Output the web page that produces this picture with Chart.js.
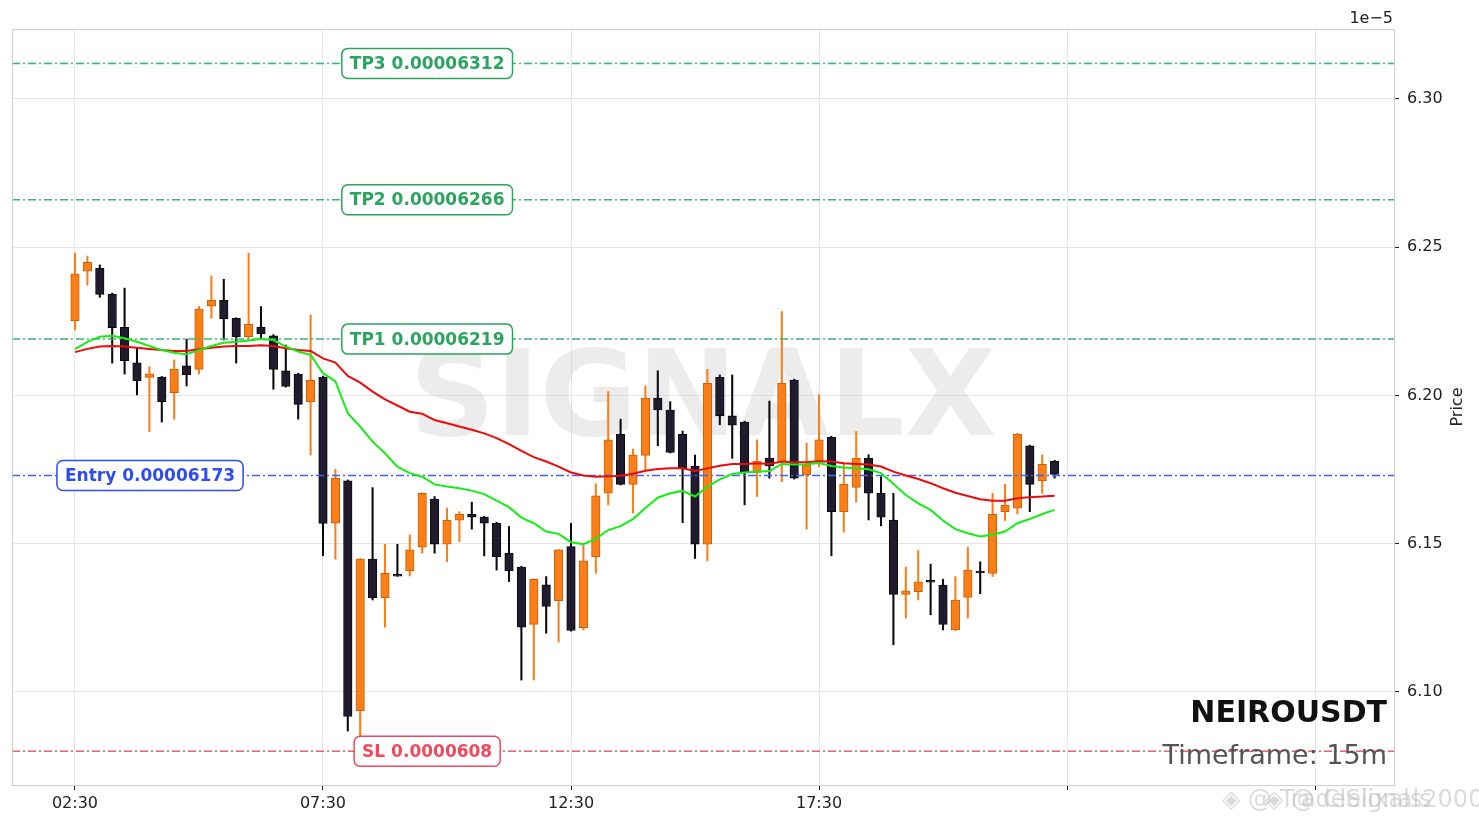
<!DOCTYPE html>
<html>
<head>
<meta charset="utf-8">
<script src="https://cdn.jsdelivr.net/npm/chart.js@4.4.1/dist/chart.umd.min.js"></script>
<style>
  html, body { margin: 0; padding: 0; background: #fff; }
  #wrap { width: 1479px; height: 825px; position: relative; }
</style>
</head>
<body>
<div id="wrap"><canvas id="priceChart"></canvas></div>
<script>
// candle data, 15m bars starting 02:30 (prices in 1e-5)
const opens = [6.2251,6.2419,6.2429,6.2342,6.2230,6.2110,6.2061,6.2062,6.2009,6.2100,
  6.2088,6.2301,6.2321,6.2260,6.2198,6.2230,6.2201,6.2083,6.2072,6.1979,
  6.2062,6.1569,6.1712,6.0937,6.1448,6.1318,6.1393,6.1409,6.1488,6.1650,
  6.1498,6.1579,6.1599,6.1590,6.1569,6.1468,6.1421,6.1228,6.1361,6.1308,
  6.1490,6.1217,6.1456,6.1670,6.1869,6.1700,6.1798,6.1991,6.1951,6.1869,
  6.1762,6.1498,6.2061,6.1931,6.1910,6.1740,6.1788,6.1777,6.2052,6.1732,
  6.1777,6.1859,6.1608,6.1690,6.1788,6.1670,6.1580,6.1329,6.1338,6.1372,
  6.1360,6.1209,6.1319,6.1404,6.1400,6.1608,6.1620,6.1830,6.1712,6.1779];
const highs = [6.2480,6.2470,6.2440,6.2345,6.2362,6.2159,6.2097,6.2064,6.2120,6.2190,
  6.2300,6.2403,6.2392,6.2262,6.2480,6.2300,6.2205,6.2170,6.2075,6.2272,
  6.2065,6.1751,6.1715,6.1450,6.1689,6.1498,6.1498,6.1530,6.1672,6.1659,
  6.1620,6.1608,6.1640,6.1592,6.1572,6.1558,6.1424,6.1382,6.1389,6.1481,
  6.1569,6.1496,6.1702,6.2013,6.1920,6.1819,6.2032,6.2083,6.1979,6.1880,
  6.1799,6.2088,6.2069,6.2069,6.1913,6.1850,6.1981,6.2283,6.2055,6.1839,
  6.2002,6.1862,6.1768,6.1878,6.1800,6.1726,6.1670,6.1421,6.1477,6.1431,
  6.1380,6.1389,6.1488,6.1439,6.1670,6.1700,6.1872,6.1832,6.1799,6.1781];
const lows = [6.2221,6.2372,6.2331,6.2109,6.2072,6.2002,6.1878,6.1910,6.1920,6.2032,
  6.2072,6.2260,6.2187,6.2109,6.2190,6.2193,6.2021,6.2028,6.1920,6.1799,
  6.1459,6.1448,6.0868,6.0849,6.1310,6.1218,6.1390,6.1391,6.1468,6.1468,
  6.1439,6.1507,6.1549,6.1459,6.1411,6.1372,6.1040,6.1040,6.1198,6.1168,
  6.1205,6.1209,6.1400,6.1631,6.1698,6.1603,6.1749,6.1830,6.1806,6.1571,
  6.1450,6.1442,6.1901,6.1788,6.1631,6.1659,6.1721,6.1709,6.1718,6.1549,
  6.1760,6.1459,6.1539,6.1640,6.1580,6.1560,6.1159,6.1249,6.1310,6.1260,
  6.1209,6.1207,6.1249,6.1331,6.1389,6.1578,6.1600,6.1608,6.1670,6.1721];
const closes = [6.2410,6.2449,6.2341,6.2229,6.2117,6.2050,6.2073,6.1979,6.2088,6.2070,
  6.2291,6.2321,6.2259,6.2198,6.2240,6.2208,6.2088,6.2030,6.1970,6.2051,
  6.1568,6.1721,6.0917,6.1448,6.1318,6.1400,6.1390,6.1479,6.1670,6.1498,
  6.1579,6.1599,6.1589,6.1569,6.1456,6.1409,6.1218,6.1380,6.1288,6.1479,
  6.1207,6.1442,6.1661,6.1850,6.1700,6.1799,6.1991,6.1951,6.1808,6.1754,
  6.1498,6.2041,6.1931,6.1900,6.1740,6.1779,6.1762,6.2041,6.1721,6.1766,
  6.1850,6.1608,6.1700,6.1788,6.1670,6.1589,6.1329,6.1341,6.1371,6.1370,
  6.1228,6.1310,6.1411,6.1401,6.1599,6.1630,6.1870,6.1700,6.1768,6.1734];

// moving averages
const emaFast = [6.2156,6.2181,6.2198,6.2201,6.2193,6.2181,6.2167,6.2153,6.2144,6.2139,
  6.2153,6.2167,6.2178,6.2181,6.2185,6.2190,6.2187,6.2165,6.2148,6.2137,
  6.2075,6.2047,6.1940,6.1895,6.1844,6.1805,6.1760,6.1738,6.1726,6.1700,
  6.1693,6.1687,6.1679,6.1667,6.1645,6.1623,6.1588,6.1569,6.1541,6.1533,
  6.1505,6.1498,6.1516,6.1546,6.1559,6.1583,6.1620,6.1655,6.1670,6.1678,
  6.1659,6.1692,6.1717,6.1735,6.1740,6.1743,6.1745,6.1769,6.1767,6.1768,
  6.1772,6.1762,6.1757,6.1754,6.1751,6.1738,6.1702,6.1664,6.1636,6.1614,
  6.1578,6.1549,6.1535,6.1524,6.1530,6.1541,6.1569,6.1583,6.1600,6.1614];
const emaSlow = [6.2146,6.2157,6.2165,6.2167,6.2165,6.2161,6.2157,6.2153,6.2150,6.2150,
  6.2156,6.2161,6.2165,6.2167,6.2167,6.2169,6.2167,6.2159,6.2153,6.2150,
  6.2125,6.2111,6.2066,6.2043,6.2013,6.1987,6.1966,6.1945,6.1938,6.1917,
  6.1906,6.1895,6.1884,6.1872,6.1856,6.1836,6.1813,6.1792,6.1777,6.1760,
  6.1740,6.1730,6.1726,6.1727,6.1729,6.1736,6.1746,6.1752,6.1754,6.1754,
  6.1745,6.1754,6.1763,6.1769,6.1769,6.1771,6.1769,6.1777,6.1775,6.1775,
  6.1778,6.1777,6.1771,6.1769,6.1767,6.1760,6.1743,6.1730,6.1718,6.1704,
  6.1687,6.1672,6.1661,6.1650,6.1645,6.1645,6.1653,6.1657,6.1659,6.1662];

// trade levels
const levelNames = ['TP3', 'TP2', 'TP1', 'Entry', 'SL'];
const levelValues = [6.312, 6.266, 6.219, 6.173, 6.08];
const levelTexts = ['0.00006312', '0.00006266', '0.00006219', '0.00006173', '0.0000608'];
const levelColors = ['#2aa45e', '#2aa45e', '#2aa45e', '#2f4bf2', '#f0495c'];
const levelLineColors = ['#3db56f', '#3db56f', '#3db56f', '#4262ff', '#f25d6d'];
const levelLabelAt = [28.4, 28.4, 28.4, 6.05, 28.4];

const xTicks = [0, 20, 40, 60, 80, 100];
const xTickLabels = ['02:30', '07:30', '12:30', '17:30', '', ''];
const yTicks = [6.10, 6.15, 6.20, 6.25, 6.30];

const X_MIN = -5.08, X_MAX = 106.37;
const Y_MIN = 6.0686, Y_MAX = 6.3236;

const BULL = '#fb7f16', BULL_EDGE = '#c9600c';
const BEAR = '#211b2e', BEAR_EDGE = '#0b0910';
const FONT = "'DejaVu Sans', sans-serif";

const isBull = opens.map((o, i) => closes[i] >= o);

const levelDatasets = levelValues.map((v, i) => ({
    type: 'line',
    label: levelNames[i],
    data: [{x: X_MIN, y: v}, {x: X_MAX, y: v}],
    borderColor: levelLineColors[i],
    borderWidth: 1.5,
    borderDash: [8, 3, 2, 3],
    pointRadius: 0,
    order: 5
}));

const overlayPlugin = {
    id: 'overlay',
    beforeDatasetsDraw(chart) {
        const {ctx, chartArea} = chart;
        ctx.save();
        ctx.fillStyle = 'rgba(200, 200, 200, 0.35)';
        ctx.font = 'bold 119px ' + FONT;
        ctx.textAlign = 'center';
        ctx.textBaseline = 'middle';
        ctx.fillText('SIGNALX', (chartArea.left + chartArea.right) / 2, 404);
        ctx.restore();
    },
    afterDatasetsDraw(chart) {
        const {ctx, chartArea, scales} = chart;
        ctx.save();
        // level labels
        ctx.font = 'bold 17px ' + FONT;
        ctx.textAlign = 'center';
        ctx.textBaseline = 'middle';
        levelValues.forEach((v, i) => {
            const txt = levelNames[i] + ' ' + levelTexts[i];
            const cx = scales.x.getPixelForValue(levelLabelAt[i]);
            const cy = scales.y.getPixelForValue(v);
            const w = ctx.measureText(txt).width + 16;
            const h = 30;
            ctx.beginPath();
            ctx.roundRect(cx - w / 2, cy - h / 2, w, h, 6);
            ctx.fillStyle = '#ffffff';
            ctx.fill();
            ctx.lineWidth = 1.5;
            ctx.strokeStyle = levelColors[i];
            ctx.stroke();
            ctx.fillStyle = levelColors[i];
            ctx.fillText(txt, cx, cy + 1);
        });
        // symbol / timeframe
        ctx.textAlign = 'right';
        ctx.textBaseline = 'alphabetic';
        ctx.fillStyle = '#111111';
        ctx.font = 'bold 30px ' + FONT;
        ctx.fillText('NEIROUSDT', chartArea.right - 7, 722);
        ctx.fillStyle = '#555555';
        ctx.font = '27px ' + FONT;
        ctx.fillText('Timeframe: 15m', chartArea.right - 7, 764);
        // frame
        ctx.strokeStyle = '#cfcfcf';
        ctx.lineWidth = 1;
        ctx.strokeRect(chartArea.left + 0.5, chartArea.top + 0.5,
            chartArea.right - chartArea.left, chartArea.bottom - chartArea.top);
        ctx.restore();
    },
    afterDraw(chart) {
        const {ctx, chartArea} = chart;
        ctx.save();
        ctx.fillStyle = '#222';
        ctx.font = '16px ' + FONT;
        ctx.textAlign = 'right';
        ctx.textBaseline = 'alphabetic';
        ctx.fillText('1e\u22125', chartArea.right - 1, 23);
        ctx.translate(1458, (chartArea.top + chartArea.bottom) / 2);
        ctx.rotate(-Math.PI / 2);
        ctx.textAlign = 'center';
        ctx.textBaseline = 'middle';
        ctx.fillText('Price', 0, 0);
        ctx.restore();
        // faint corner watermark
        ctx.save();
        ctx.font = '24px ' + FONT;
        ctx.textAlign = 'left';
        ctx.textBaseline = 'middle';
        ctx.fillStyle = 'rgba(190, 190, 190, 0.55)';
        ctx.fillText('\u25C8 @ TradeSignals', 1222, 801);
        ctx.fillText('\u25C8 @ Clelixals2000', 1265, 801);
        ctx.restore();
    }
};

new Chart(document.getElementById('priceChart'), {
    type: 'bar',
    data: {
        datasets: [
            {
                label: 'wicks',
                data: lows.map((l, i) => ({x: i, y: [l, highs[i]]})),
                backgroundColor: isBull.map(b => b ? BULL : BEAR_EDGE),
                borderWidth: 0,
                barThickness: 1.4,
                grouped: false,
                order: 10
            },
            {
                label: 'bodies',
                data: opens.map((o, i) => ({x: i, y: [o, closes[i]]})),
                backgroundColor: isBull.map(b => b ? BULL : BEAR),
                borderColor: isBull.map(b => b ? BULL_EDGE : BEAR_EDGE),
                borderWidth: 1,
                borderSkipped: false,
                barThickness: 8.5,
                minBarLength: 2,
                grouped: false,
                order: 9
            },
            ...levelDatasets,
            {
                type: 'line',
                label: 'EMA slow',
                data: emaSlow.map((v, i) => ({x: i, y: v})),
                borderColor: '#ee0a0a',
                borderWidth: 2,
                pointRadius: 0,
                tension: 0,
                order: 2
            },
            {
                type: 'line',
                label: 'EMA fast',
                data: emaFast.map((v, i) => ({x: i, y: v})),
                borderColor: '#16ec16',
                borderWidth: 2,
                pointRadius: 0,
                tension: 0,
                order: 1
            }
        ]
    },
    options: {
        responsive: true,
        maintainAspectRatio: false,
        animation: false,
        layout: {
            padding: {left: 12, top: 29, right: 0, bottom: 0}
        },
        plugins: {
            legend: {display: false},
            tooltip: {enabled: false},
            title: {display: false}
        },
        scales: {
            x: {
                type: 'linear',
                min: X_MIN,
                max: X_MAX,
                offset: false,
                afterBuildTicks: scale => { scale.ticks = xTicks.map(v => ({value: v})); },
                afterFit: scale => { scale.height = 40; },
                grid: {
                    offset: false,
                    color: '#e6e6e6',
                    tickColor: '#222',
                    tickLength: 5
                },
                border: {display: false},
                ticks: {
                    autoSkip: false,
                    maxRotation: 0,
                    padding: 4,
                    color: '#222',
                    font: {family: FONT, size: 16},
                    callback: v => xTickLabels[xTicks.indexOf(v)] ?? ''
                }
            },
            y: {
                position: 'right',
                min: Y_MIN,
                max: Y_MAX,
                afterBuildTicks: scale => { scale.ticks = yTicks.map(v => ({value: v})); },
                afterFit: scale => { scale.width = 85; },
                grid: {
                    color: '#e6e6e6',
                    tickColor: '#222',
                    tickLength: 5
                },
                border: {display: false},
                ticks: {
                    padding: 8,
                    color: '#222',
                    font: {family: FONT, size: 16},
                    callback: v => v.toFixed(2)
                }
            }
        }
    },
    plugins: [overlayPlugin]
});
</script>
</body>
</html>
